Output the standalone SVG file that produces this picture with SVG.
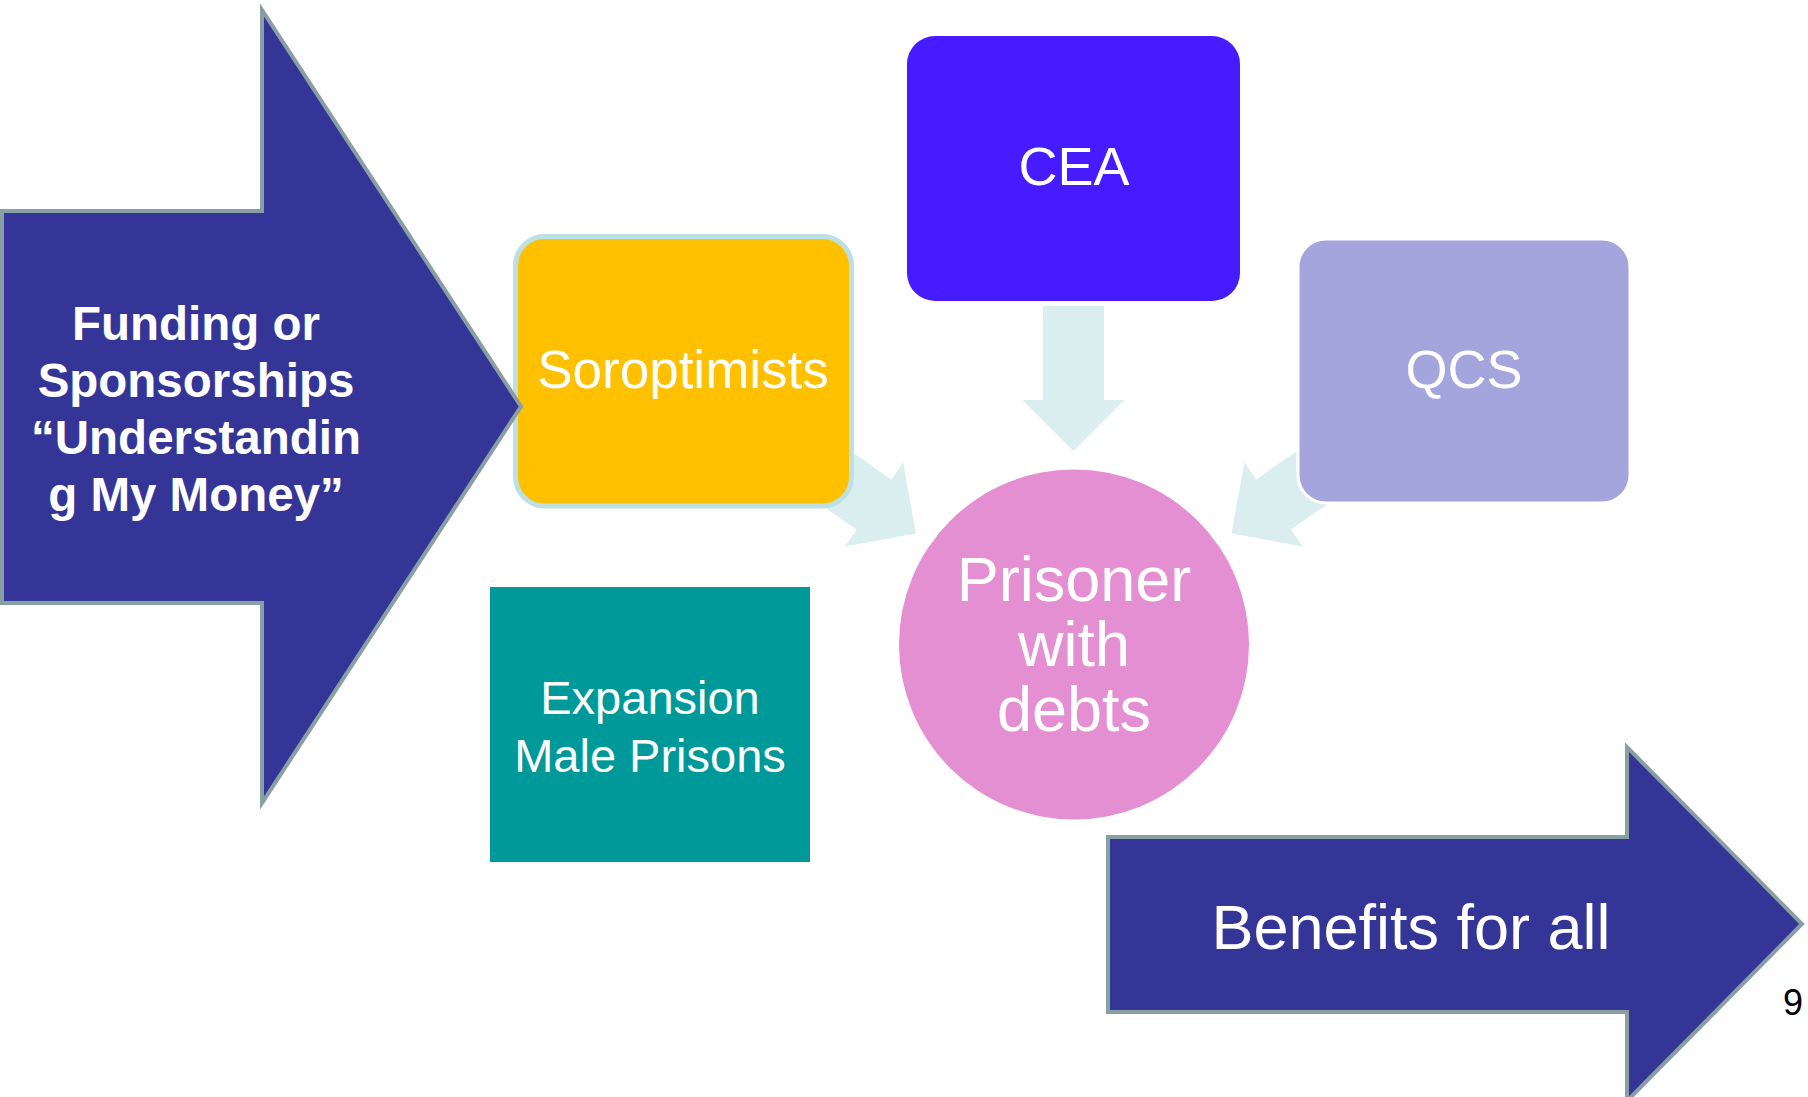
<svg xmlns="http://www.w3.org/2000/svg" width="1808" height="1097" viewBox="0 0 1808 1097">
<defs>
<style>
.lbl{font-family:"Liberation Sans",Arial,sans-serif;fill:#FFFFFF;text-anchor:middle}
.big{stroke:#88A0A3;stroke-width:4;fill:#353597;stroke-linejoin:miter}
.conn{fill:#DAEDEF}
</style>
<polygon id="ah" points="-94,-30.5 0,-30.5 0,-51 51,0 0,51 0,30.5 -94,30.5"/>
</defs>
<rect width="1808" height="1097" fill="#FFFFFF"/>
<g id="connectors" class="conn">
<use href="#ah" transform="translate(874,504.5) rotate(34.8)"/>
<use href="#ah" transform="translate(1273.5,504.5) rotate(145.2)"/>
<use href="#ah" transform="translate(1073.5,400) rotate(90)"/>
</g>
<g id="soroptimists">
<rect x="515.5" y="236.5" width="336" height="269.5" rx="29" ry="29" fill="#FFC000" stroke="#BCE0E4" stroke-width="5"/>
<text class="lbl" x="683" y="388" font-size="53">Soroptimists</text>
</g>
<g id="cea">
<rect x="907" y="36" width="333" height="265" rx="28" ry="28" fill="#461BFF"/>
<text class="lbl" x="1074" y="185" font-size="54">CEA</text>
</g>
<g id="qcs">
<rect x="1298" y="239" width="332" height="264" rx="28" ry="28" fill="#A5A5DE" stroke="#FFFFFF" stroke-width="3"/>
<text class="lbl" x="1464" y="388" font-size="54">QCS</text>
</g>
<g id="prisoner">
<circle cx="1074" cy="644.5" r="175" fill="#E58FD3"/>
<text class="lbl" font-size="63"><tspan x="1074" y="601">Prisoner</tspan><tspan x="1074" y="666">with</tspan><tspan x="1074" y="731">debts</tspan></text>
</g>
<g id="expansion">
<rect x="490" y="587" width="320" height="275" fill="#009999"/>
<text class="lbl" font-size="47"><tspan x="650" y="714">Expansion</tspan><tspan x="650" y="772">Male Prisons</tspan></text>
</g>
<g id="funding">
<polygon class="big" points="2,211 262,211 262,10 521,406.5 262,803 262,603 2,603"/>
<text class="lbl" font-size="47.5" font-weight="bold"><tspan x="196" y="340">Funding or</tspan><tspan x="196" y="397">Sponsorships</tspan><tspan x="196" y="454">“Understandin</tspan><tspan x="196" y="511">g My Money”</tspan></text>
</g>
<g id="benefits">
<polygon class="big" points="1108,837 1627,837 1627,747 1802,924 1627,1101 1627,1012 1108,1012"/>
<text class="lbl" x="1411" y="949" font-size="63">Benefits for all</text>
</g>
<text x="1783" y="1015" font-size="36" font-family="Liberation Sans,Arial,sans-serif" fill="#000000">9</text>
</svg>
